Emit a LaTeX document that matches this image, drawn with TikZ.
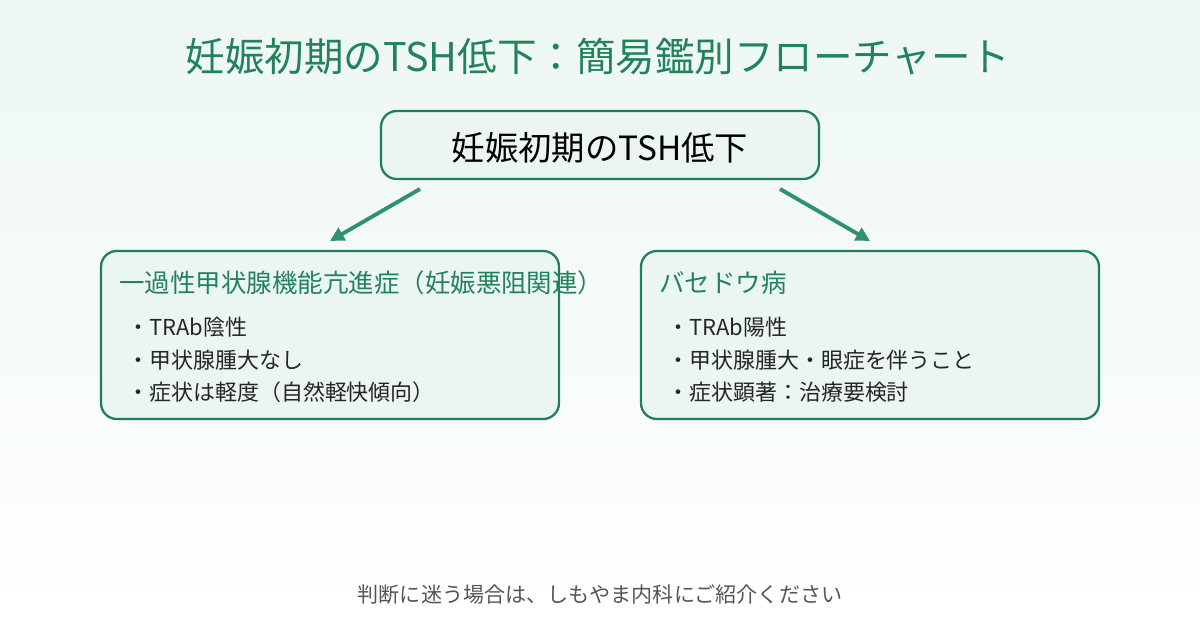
\documentclass[tikz,border=0pt]{standalone}
\usepackage{fontspec}
\newfontfamily\jp{Noto Sans CJK JP}
\usetikzlibrary{positioning,arrows.meta}
\definecolor{ttlgreen}{HTML}{23825E}
\definecolor{boxgreen}{HTML}{1F7F5C}
\definecolor{boxfill}{HTML}{ECF6F1}
\definecolor{arrgreen}{HTML}{2E9170}
\definecolor{bgtop}{HTML}{EDF7F1}
\definecolor{footgray}{HTML}{555555}
\tikzset{
  flowbox/.style = {draw=boxgreen, line width=1.3pt, fill=boxfill, rounded corners=9pt},
  flowarrow/.style = {draw=arrgreen, line width=2.2pt, -{Triangle[length=8pt,width=8pt]}},
  bullets/.style = {anchor=north west, align=left, inner sep=0pt, font=\jp\fontsize{12.5}{18.5}\selectfont, text=black!85}
}
\begin{document}
\begin{tikzpicture}[x=0.02cm,y=-0.02cm]
   \shade[top color=bgtop, bottom color=white] (0,0) rectangle (1200,628);
   \useasboundingbox (0,0) rectangle (1200,628);

   % title
   \node[text=ttlgreen, font=\jp\fontsize{22.5}{26}\selectfont] (title) at (598,57)
      {妊娠初期のTSH低下：簡易鑑別フローチャート};

   % top box
   \draw[flowbox] (381,111) rectangle (819,179);
   \node[font=\jp\fontsize{19}{22}\selectfont] (top) at (600,148) {妊娠初期のTSH低下};

   % two branches
   \draw[flowbox] (101,251) rectangle (559,419);
   \draw[flowbox] (641,251) rectangle (1099,419);
   \node[anchor=west, inner sep=0pt, text=ttlgreen, font=\jp\fontsize{14.5}{16}\selectfont] (lhead) at (119,283)
      {一過性甲状腺機能亢進症（妊娠悪阻関連）};
   \node[anchor=west, inner sep=0pt, text=ttlgreen, font=\jp\fontsize{14.5}{16}\selectfont] (rhead) at (659,283)
      {バセドウ病};
   \node[bullets] (lbody) at (127,317) {・TRAb陰性\\・甲状腺腫大なし\\・症状は軽度（自然軽快傾向）};
   \node[bullets] (rbody) at (667,317) {・TRAb陽性\\・甲状腺腫大・眼症を伴うこと\\・症状顕著：治療要検討};

   % arrows
   \coordinate (la) at (420,189);
   \coordinate (lb) at (330,241);
   \coordinate (ra) at (780,189);
   \coordinate (rb) at (870,241);
   \draw[flowarrow] (la) -- (lb);
   \draw[flowarrow] (ra) -- (rb);

   % footer
   \node[text=footgray, font=\jp\fontsize{12}{14}\selectfont] (foot) at (600,595)
      {判断に迷う場合は、しもやま内科にご紹介ください};
\end{tikzpicture}
\end{document}
